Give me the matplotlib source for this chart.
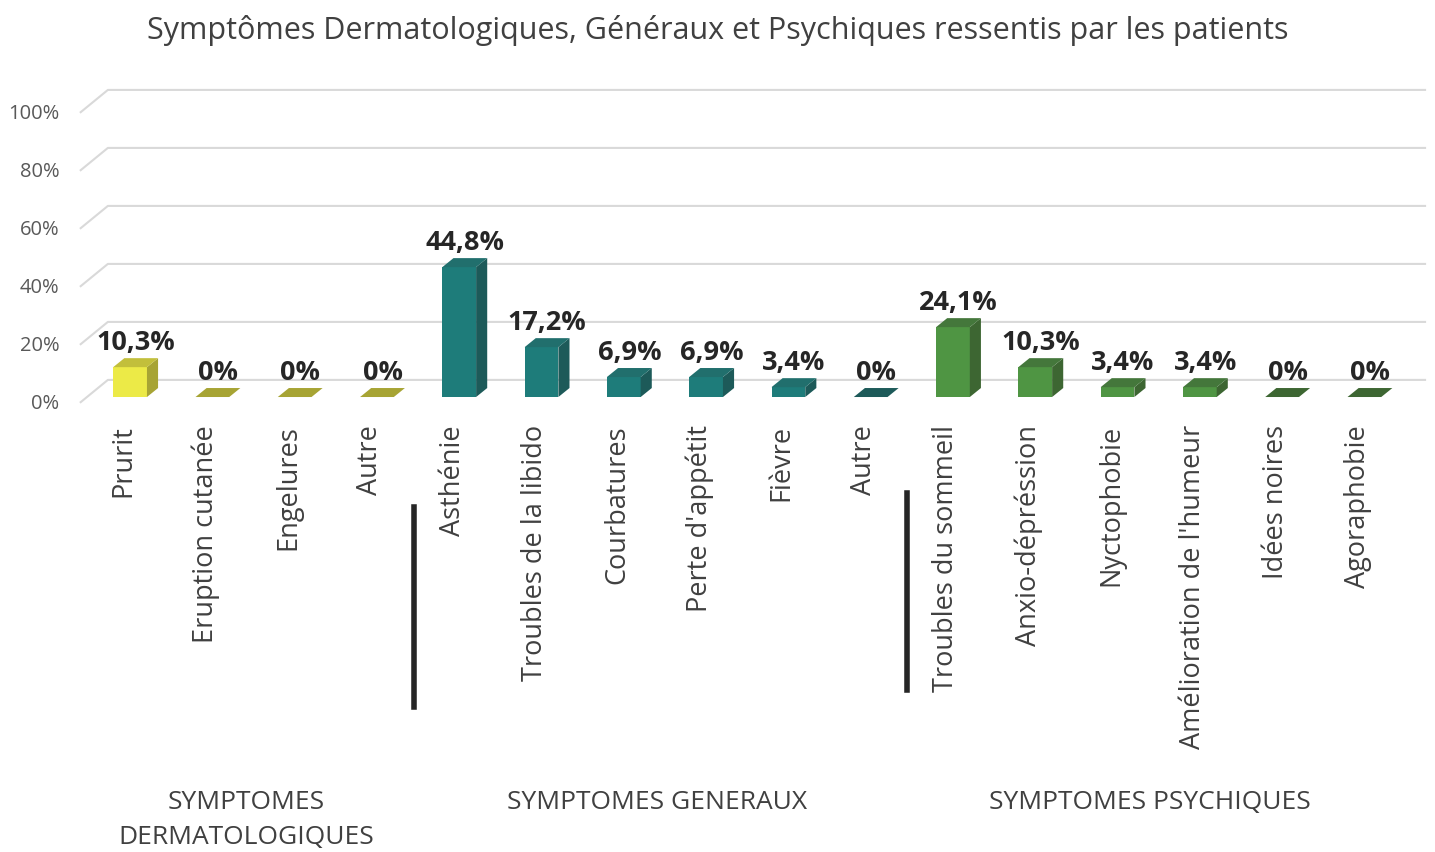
import matplotlib.pyplot as plt
from matplotlib.patches import Polygon

# Data
categories = ["Prurit", "Eruption cutanée", "Engelures", "Autre",
              "Asthénie", "Troubles de la libido", "Courbatures", "Perte d'appétit", "Fièvre", "Autre",
              "Troubles du sommeil", "Anxio-dépréssion", "Nyctophobie", "Amélioration de l'humeur",
              "Idées noires", "Agoraphobie"]
values = [10.3, 0, 0, 0,
          44.8, 17.2, 6.9, 6.9, 3.4, 0,
          24.1, 10.3, 3.4, 3.4, 0, 0]
labels = ["10,3%", "0%", "0%", "0%",
          "44,8%", "17,2%", "6,9%", "6,9%", "3,4%", "0%",
          "24,1%", "10,3%", "3,4%", "3,4%", "0%", "0%"]
groups = ["SYMPTOMES\nDERMATOLOGIQUES", "SYMPTOMES GENERAUX", "SYMPTOMES PSYCHIQUES"]
group_sizes = [4, 6, 6]
yticks = [0, 20, 40, 60, 80, 100]

# colours per group: front, side, top
palette = [("#ECEA47", "#A7A434", "#C2BF3B"),
           ("#1E7C7A", "#1D5A59", "#216F6D"),
           ("#4F9543", "#3D6632", "#44773B")]

plt.rcParams['font.family'] = ['Open Sans', 'DejaVu Sans']

fig = plt.figure(figsize=(14.35, 8.52), dpi=100)
ax = fig.add_axes([0.0551, 0.517, 0.9387, 0.3846])
ax.set_xlim(-0.62, 15.75)
ax.set_ylim(-5, 108)
ax.axis('off')

bw = 0.41      # bar width (category units)
ddx = 0.135    # depth offset x
ddy = 3.1      # depth offset y
back = 5.9     # back wall offset

# gridlines with perspective stub on the left
x0 = -0.61
for v in yticks:
    ax.plot([x0, x0 + 0.34, 15.75], [v - 2, v + back, v + back],
            color="#D9D9D9", lw=1.5, zorder=1, clip_on=False, solid_capstyle='butt')
    ax.text(x0 - 0.25, v - 2.4, f"{v}%", ha='right', va='center',
            fontsize=14.5, color="#595959")

# bars
gi = []
for g, n in enumerate(group_sizes):
    gi += [g] * n

for i, v in enumerate(values):
    front, side, top = palette[gi[i]]
    l, r = i - bw / 2, i + bw / 2
    if v > 0:
        ax.add_patch(Polygon([(l, 0), (r, 0), (r, v), (l, v)],
                             closed=True, fc=front, ec='none', zorder=3))
        ax.add_patch(Polygon([(r, 0), (r + ddx, ddy), (r + ddx, v + ddy), (r, v)],
                             closed=True, fc=side, ec='none', zorder=3))
    ax.add_patch(Polygon([(l, v), (r, v), (r + ddx, v + ddy), (l + ddx, v + ddy)],
                         closed=True, fc=top if v > 0 else side, ec='none', zorder=3,
                         clip_on=False))
    ax.text(i + ddx / 2, v + ddy + 0.6, labels[i], ha='center', va='bottom',
            fontsize=19.5, fontweight='bold', color="#262626", zorder=4)
    ax.text(i - 0.08, -9.7, categories[i], rotation=90, ha='center', va='top',
            fontsize=19.5, color="#404040", clip_on=False)

# separators between groups
ax.plot([3.45, 3.45], [-37.9, -107], color="#262626", lw=4, clip_on=False)
ax.plot([9.44, 9.44], [-33.1, -101], color="#262626", lw=4, clip_on=False)

# group labels
for x, txt in zip([1.41, 6.40, 12.39], groups):
    ax.text(x, -135.5, txt, ha='center', va='top', fontsize=19,
            color="#404040", linespacing=1.55, clip_on=False)

fig.text(0.5, 0.964, "Symptômes Dermatologiques, Généraux et Psychiques ressentis par les patients",
         ha='center', va='center', fontsize=22, color="#404040")

fig.savefig("out.png", dpi=100)
